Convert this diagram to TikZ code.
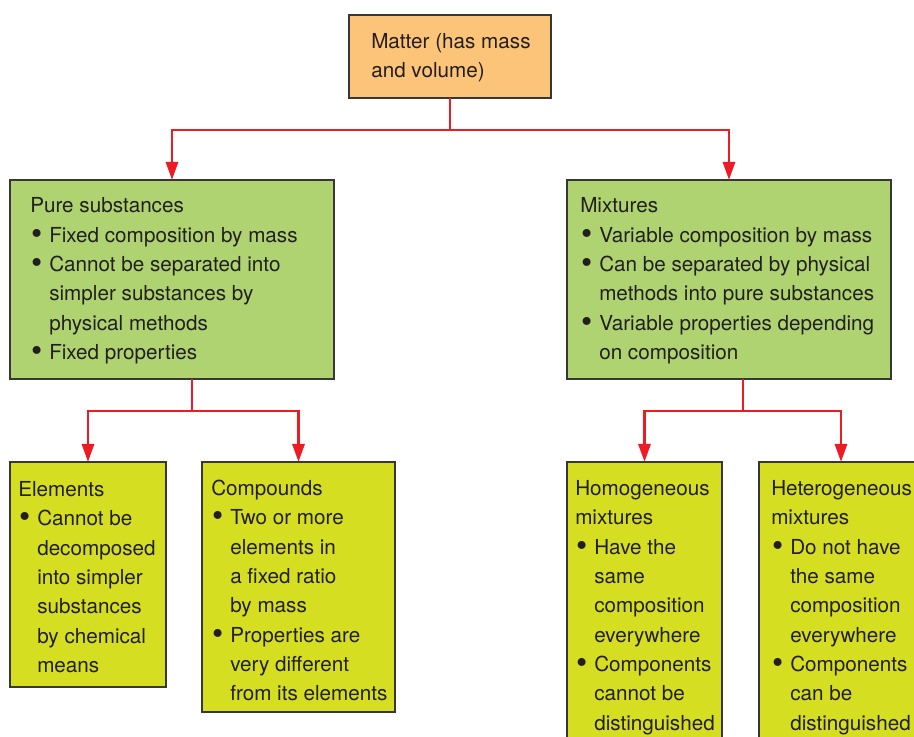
\documentclass[tikz,border=0pt]{standalone}
\usepackage{fontspec}
\setmainfont{TeX Gyre Heros}
\usetikzlibrary{arrows.meta,calc}

\definecolor{matterfill}{RGB}{251,196,120}
\definecolor{greenfill}{RGB}{174,211,112}
\definecolor{limefill}{RGB}{214,222,34}
\definecolor{linkred}{RGB}{237,28,36}
\definecolor{inkgray}{RGB}{35,31,32}
\definecolor{edgegray}{RGB}{55,55,55}

\newcommand{\itm}{\makebox[14.25pt][l]{\hspace*{0.6pt}\raisebox{-1.7pt}{\scalebox{1.55}{\textbullet}}}}
\newcommand{\ind}{\hspace*{14.25pt}}

\begin{document}
\begin{tikzpicture}[x=0.75pt,y=0.75pt,yscale=-1,
  box/.style={draw=edgegray, line width=1.1pt, inner sep=0pt, outer sep=0pt},
  txt/.style={anchor=west, align=left, inner sep=0pt, text=inkgray, font=\fontsize{15.5}{22}\selectfont},
  link/.style={draw=linkred, line width=2.2pt, -{Triangle[length=13.5pt,width=9pt]}}]
%set diagram to the size of the figure, boxes below and right run out of it
\useasboundingbox (0,0) rectangle (914,737);
\clip (0,0) rectangle (914,737);

%Shape: Rectangle
\node [box, fill=matterfill, minimum width=151.5pt, minimum height=62.25pt] (matter) at (450,56.5) {};
%Shape: Rectangle
\node [box, fill=greenfill, minimum width=243pt, minimum height=149.25pt] (pure) at (172,279.5) {};
%Shape: Rectangle
\node [box, fill=greenfill, minimum width=243pt, minimum height=149.25pt] (mixtures) at (729,279.5) {};
%Shape: Rectangle
\node [box, fill=limefill, minimum width=117pt, minimum height=168.75pt] (elements) at (88,574.5) {};
%Shape: Rectangle
\node [box, fill=limefill, minimum width=144.75pt, minimum height=187.5pt] (compounds) at (298.5,587) {};
%Shape: Rectangle
\node [box, fill=limefill, minimum width=116.25pt, minimum height=213pt] (homogeneous) at (644.5,604) {};
%Shape: Rectangle
\node [box, fill=limefill, minimum width=123pt, minimum height=213pt] (heterogeneous) at (841,604) {};

%Connector
\draw [link] (matter.south) -- ++(0,32) -| (pure.north);
%Connector
\draw [link] (matter.south) -- ++(0,32) -| (mixtures.north);
%Connector
\draw [link] ($(pure.south)+(20,0)$) -- ++(0,32) -| (elements.north);
%Connector
\draw [link] ($(pure.south)+(20,0)$) -- ++(0,32) -| (compounds.north);
%Connector
\draw [link] ($(mixtures.south)+(14,0)$) -- ++(0,32) -| (homogeneous.north);
%Connector
\draw [link] ($(mixtures.south)+(14,0)$) -- ++(0,32) -| (heterogeneous.north);

% Text Node
\node [txt] (matterText) at (371,57.5) {Matter (has mass\\and volume)};
% Text Node
\node [txt] (pureText) at (30,281) {Pure substances\\
  \itm Fixed composition by mass\\
  \itm Cannot be separated into\\
  \ind simpler substances by\\
  \ind physical methods\\
  \itm Fixed properties};
% Text Node
\node [txt] (mixturesText) at (580,281) {Mixtures\\
  \itm Variable composition by mass\\
  \itm Can be separated by physical\\
  \ind methods into pure substances\\
  \itm Variable properties depending\\
  \ind on composition};
% Text Node
\node [txt] (elementsText) at (18,577) {Elements\\
  \itm Cannot be\\
  \ind decomposed\\
  \ind into simpler\\
  \ind substances\\
  \ind by chemical\\
  \ind means};
% Text Node
\node [txt] (compoundsText) at (211,590.5) {Compounds\\
  \itm Two or more\\
  \ind elements in\\
  \ind a fixed ratio\\
  \ind by mass\\
  \itm Properties are\\
  \ind very different\\
  \ind from its elements};
% Text Node
\node [txt] (homogeneousText) at (575,607.5) {Homogeneous\\
  mixtures\\
  \itm Have the\\
  \ind same\\
  \ind composition\\
  \ind everywhere\\
  \itm Components\\
  \ind cannot be\\
  \ind distinguished};
% Text Node
\node [txt] (heterogeneousText) at (771,607.5) {Heterogeneous\\
  mixtures\\
  \itm Do not have\\
  \ind the same\\
  \ind composition\\
  \ind everywhere\\
  \itm Components\\
  \ind can be\\
  \ind distinguished};
\end{tikzpicture}
\end{document}
